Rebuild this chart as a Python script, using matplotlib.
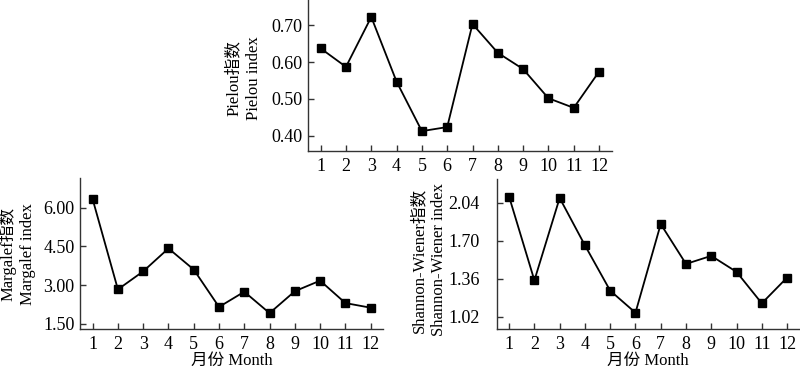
import matplotlib
matplotlib.use("Agg")
import matplotlib.pyplot as plt

plt.rcParams['font.family'] = ['Liberation Serif', 'Noto Sans CJK SC']

months = [1, 2, 3, 4, 5, 6, 7, 8, 9, 10, 11, 12]
pielou = [0.637, 0.587, 0.722, 0.547, 0.413, 0.424, 0.703, 0.625, 0.581, 0.502, 0.476, 0.574]
margalef = [6.33, 2.83, 3.53, 4.42, 3.60, 2.15, 2.74, 1.91, 2.76, 3.17, 2.30, 2.12]
shannon = [2.094, 1.347, 2.083, 1.660, 1.255, 1.058, 1.850, 1.494, 1.566, 1.423, 1.142, 1.372]

pielou_ticks = [0.40, 0.50, 0.60, 0.70]
margalef_ticks = [1.50, 3.00, 4.50, 6.00]
shannon_ticks = [1.02, 1.36, 1.70, 2.04]

W, H = 800, 368
fig = plt.figure(figsize=(8, 3.68), dpi=100)


def px_axes(left, top, right, bottom):
    return fig.add_axes([left / W, 1 - bottom / H, (right - left) / W, (bottom - top) / H])


def style(ax, vals, ticks, ylim, ypad):
    ax.plot(months, vals, color='black', lw=1.3, marker='s', ms=5.2,
            markerfacecolor='black', markeredgecolor='black')
    ax.set_xlim(0.5, 12.5)
    ax.set_ylim(*ylim)
    ax.set_xticks(months)
    ax.set_yticks(ticks)
    ax.set_yticklabels([f"{t:.2f}" for t in ticks])
    for s in ['top', 'right']:
        ax.spines[s].set_visible(False)
    for s in ['left', 'bottom']:
        ax.spines[s].set_color('#333333')
        ax.spines[s].set_linewidth(1.0)
    ax.tick_params(axis='both', direction='in', length=4, width=1.0,
                   color='#333333', labelsize=13)
    ax.tick_params(axis='x', pad=5)
    ax.tick_params(axis='y', pad=4 + ypad)
    ax.patch.set_alpha(0)


LBL = 12
LS = 1.3
ax1 = px_axes(308, 0, 611.7, 150.7)
style(ax1, pielou, pielou_ticks, (0.36, 0.768), 0)
fig.text(244 / W, 1 - 78 / H, "Pielou指数\nPielou index", rotation=90,
         ha='center', va='center', fontsize=LBL, linespacing=LS)

ax2 = px_axes(80, 178.3, 383.3, 328.7)
style(ax2, margalef, margalef_ticks, (1.306, 7.14), 0)
fig.text(17.5 / W, 1 - 254 / H, "Margalef指数\nMargalef index", rotation=90,
         ha='center', va='center', fontsize=LBL, linespacing=LS)
ax2.set_xlabel("月份 Month", fontsize=LBL, labelpad=0)

ax3 = px_axes(496.5, 179.3, 799.7, 329.3)
style(ax3, shannon, shannon_ticks, (0.91, 2.25), 8)
fig.text(429 / W, 1 - 260 / H, "Shannon-Wiener指数\nShannon-Wiener index", rotation=90,
         ha='center', va='center', fontsize=LBL, linespacing=LS)
ax3.set_xlabel("月份 Month", fontsize=LBL, labelpad=0)

fig.savefig("out.png", dpi=100)
